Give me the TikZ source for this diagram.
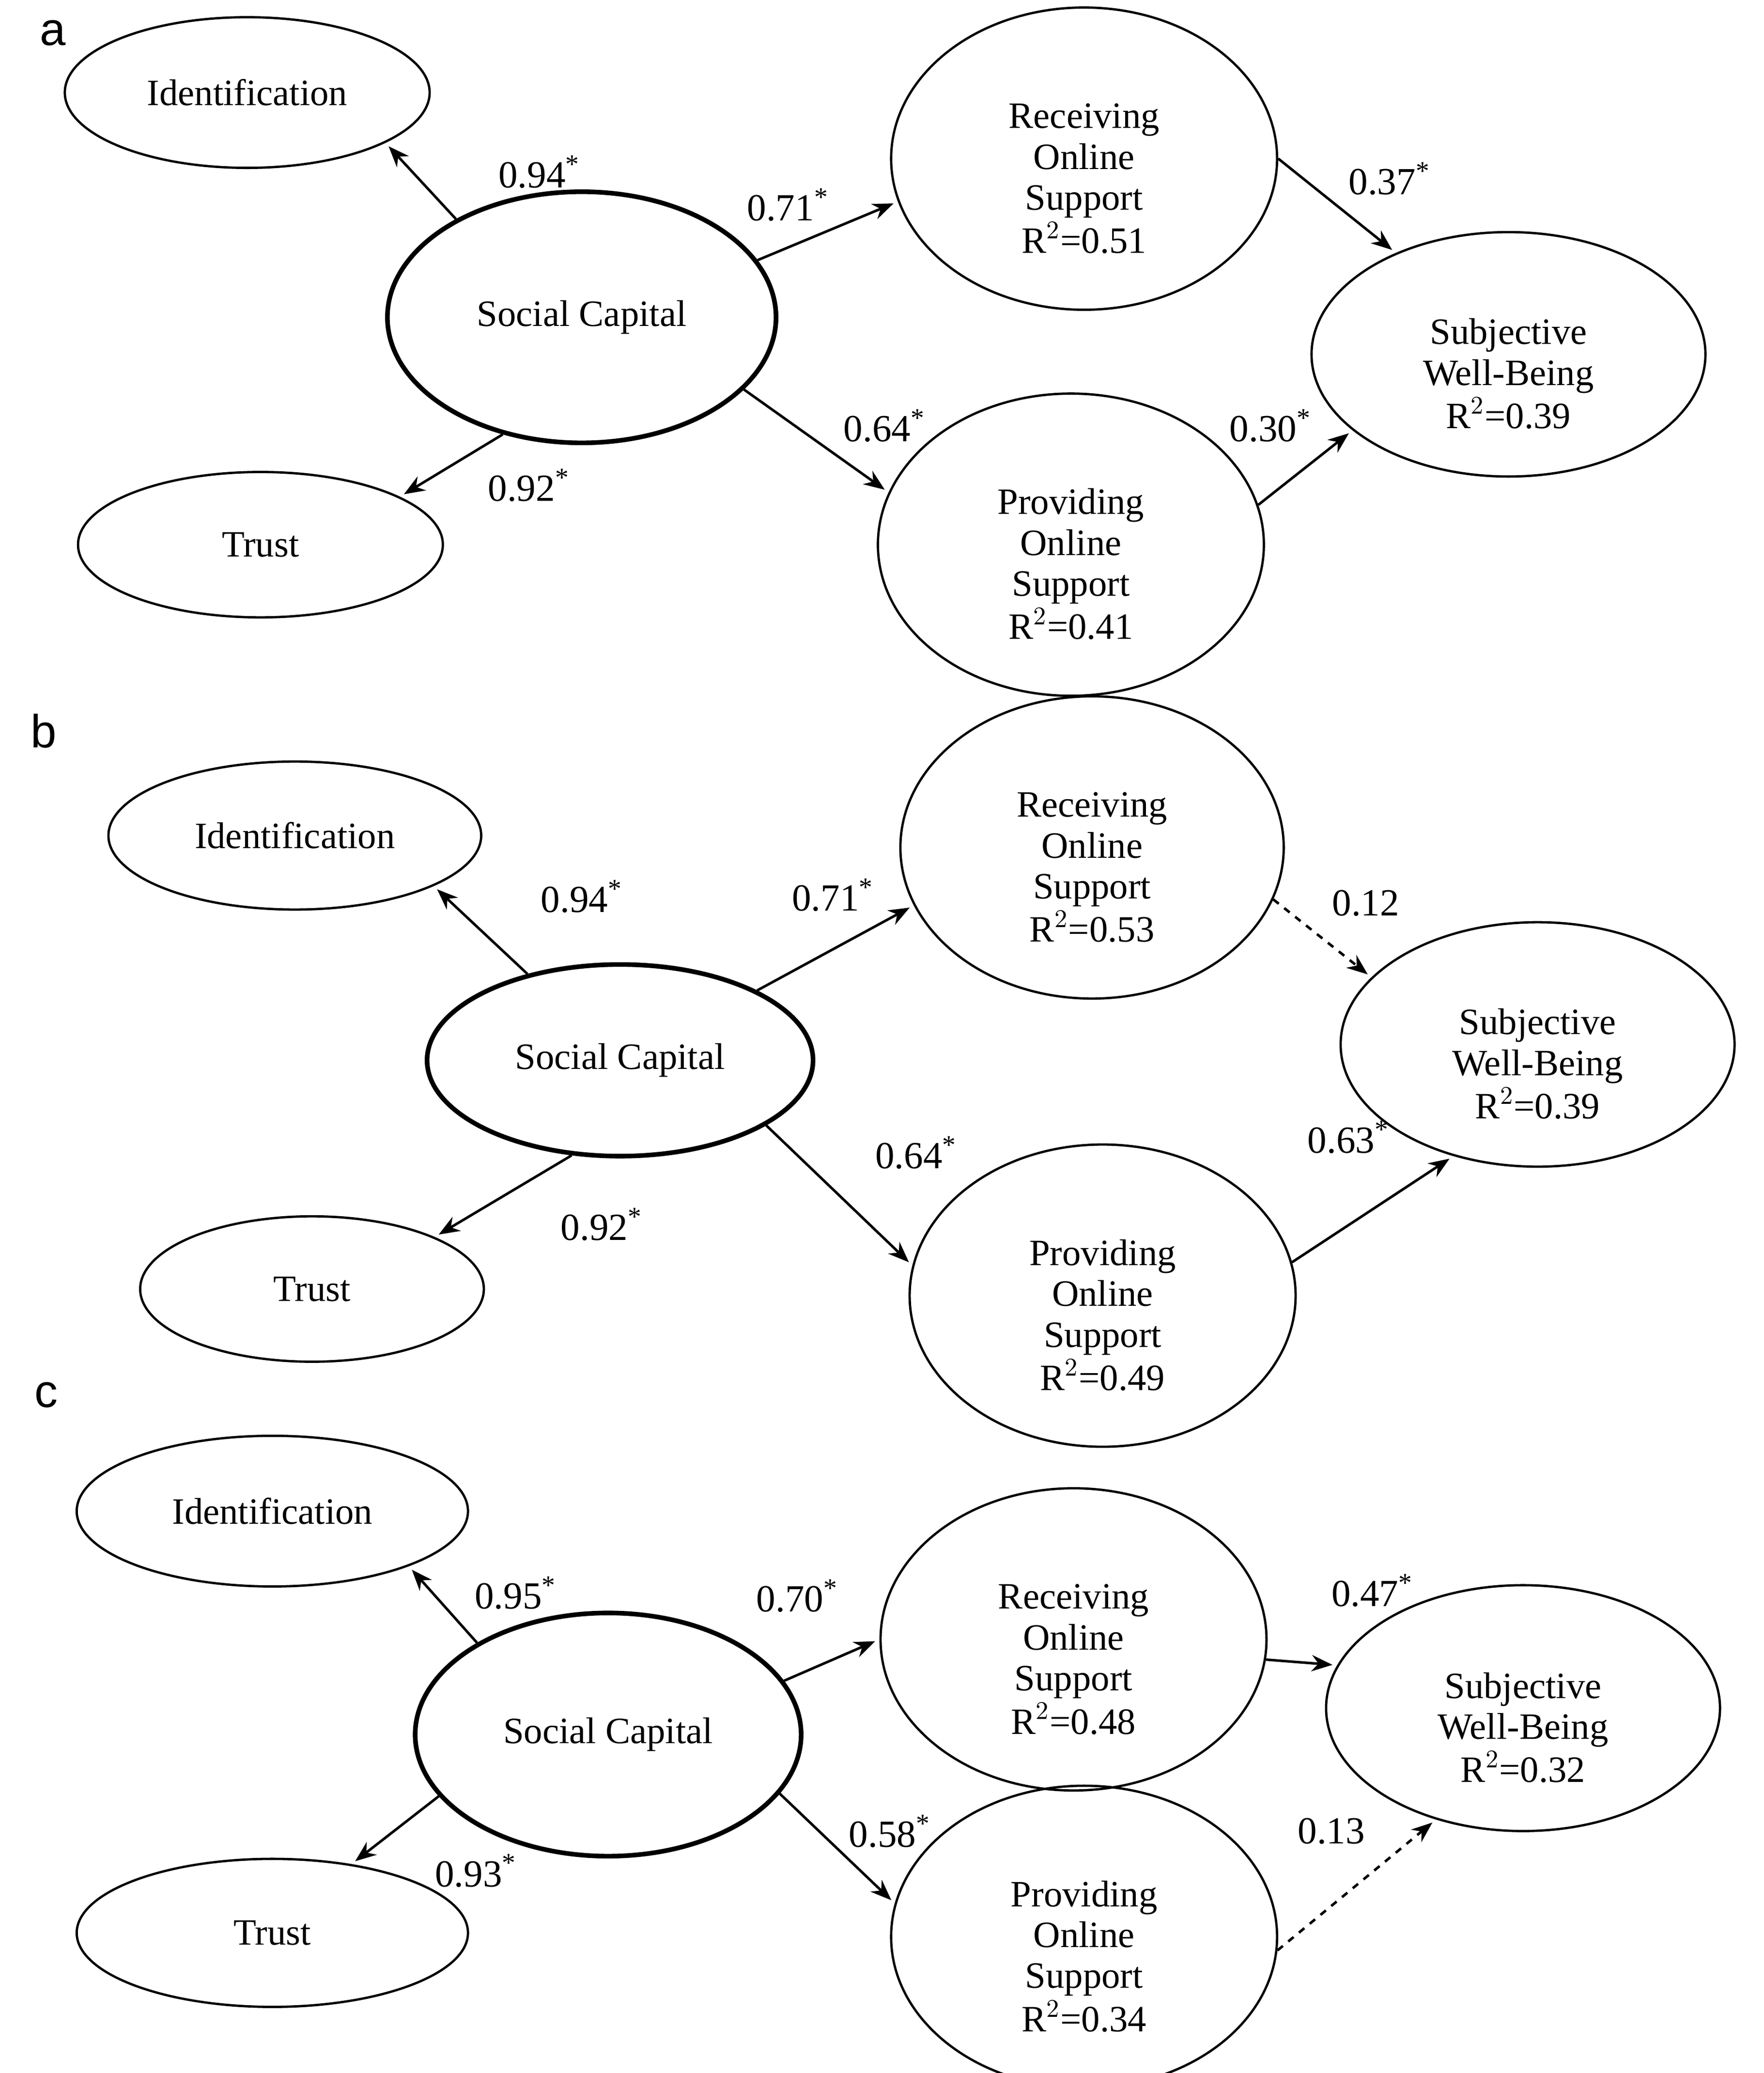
\documentclass[tikz,border=0pt]{standalone}
\usepackage{fontspec}
\setmainfont{Liberation Serif}
\newfontfamily\lett{Liberation Sans}
\usetikzlibrary{shapes.geometric,arrows.meta}
\newcommand{\T}[1]{\begin{tabular}{@{}c@{}}\\[3pt]#1\end{tabular}}
\begin{document}
\begin{tikzpicture}[x=0.02cm,y=-0.02cm,
  el/.style={ellipse,draw,line width=1pt,inner sep=0pt,font=\fontsize{16}{17.6}\selectfont},
  sc/.style={el,line width=2pt},
  ar/.style={-{Stealth[length=9pt,width=7pt]},line width=1.1pt,shorten >=2pt},
  da/.style={ar,dashed},
  lb/.style={font=\fontsize{16.5}{18}\selectfont,inner sep=0pt},
  pl/.style={font=\lett\fontsize{20}{22}\selectfont,inner sep=0pt}]
\useasboundingbox (0,0) rectangle (1334,1568);
\renewcommand{\arraystretch}{1.0}
% ---------- a
\node[pl] (la) at (40,25) {a};
\node[el,minimum width=5.52cm,minimum height=2.28cm] (ia) at (187,70) {Identification};
\node[sc,minimum width=5.88cm,minimum height=3.8cm] (sa) at (440,240) {Social Capital};
\node[el,minimum width=5.52cm,minimum height=2.2cm] (ta) at (197,412) {Trust};
\node[el,minimum width=5.84cm,minimum height=3.68cm] (ra) at (820,120) {\T{Receiving\\Online\\Support\\R$^2$=0.51}};
\node[el,minimum width=5.96cm,minimum height=3.6cm] (wa) at (1141,268) {\T{Subjective\\Well-Being\\R$^2$=0.39}};
\node[el,minimum width=5.84cm,minimum height=3.72cm] (pa) at (810,412) {\T{Providing\\Online\\Support\\R$^2$=0.41}};
\draw[ar] (sa.142) -- (ia.-20);
\draw[ar] (sa.236) -- (ta.19);
\draw[ar] (sa.18) -- (ra.193);
\draw[ar] (sa.-24) -- (pa.164);
\draw[ar] (ra.0) -- (wa.138);
\draw[ar] (pa.12) -- (wa.206);
\node[lb] (a1) at (408,130) {0.94\textsuperscript{*}};
\node[lb] (a2) at (400,367) {0.92\textsuperscript{*}};
\node[lb] (a3) at (596,155) {0.71\textsuperscript{*}};
\node[lb] (a4) at (669,322) {0.64\textsuperscript{*}};
\node[lb] (a5) at (1051,135) {0.37\textsuperscript{*}};
\node[lb] (a6) at (961,322) {0.30\textsuperscript{*}};
% ---------- b
\node[pl] (lb) at (33,553) {b};
\node[el,minimum width=5.64cm,minimum height=2.24cm] (ib) at (223,632) {Identification};
\node[sc,minimum width=5.84cm,minimum height=2.9cm] (sb) at (469,802) {Social Capital};
\node[el,minimum width=5.2cm,minimum height=2.2cm] (tb) at (236,975) {Trust};
\node[el,minimum width=5.8cm,minimum height=3.52cm] (rb) at (826,641) {\T{Receiving\\Online\\Support\\R$^2$=0.53}};
\node[el,minimum width=5.96cm,minimum height=3.2cm] (wb) at (1163,790) {\T{Subjective\\Well-Being\\R$^2$=0.39}};
\node[el,minimum width=5.84cm,minimum height=3.6cm] (pb) at (834,980) {\T{Providing\\Online\\Support\\R$^2$=0.49}};
\draw[ar] (sb.137) -- (ib.-20);
\draw[ar] (sb.243) -- (tb.23);
\draw[ar] (sb.27) -- (rb.198);
\draw[ar] (sb.-24) -- (pb.171);
\draw[da] (rb.-16) -- (wb.158);
\draw[ar] (pb.10) -- (wb.233);
\node[lb] (b1) at (440,678) {0.94\textsuperscript{*}};
\node[lb] (b2) at (455,926) {0.92\textsuperscript{*}};
\node[lb] (b3) at (630,677) {0.71\textsuperscript{*}};
\node[lb] (b4) at (693,872) {0.64\textsuperscript{*}};
\node[lb] (b5) at (1033,683) {0.12};
\node[lb] (b6) at (1020,860) {0.63\textsuperscript{*}};
% ---------- c
\node[pl] (lc) at (35,1055) {c};
\node[el,minimum width=5.92cm,minimum height=2.28cm] (ic) at (206,1143) {Identification};
\node[sc,minimum width=5.84cm,minimum height=3.68cm] (scc) at (460,1312) {Social Capital};
\node[el,minimum width=5.92cm,minimum height=2.24cm] (tc) at (206,1462) {Trust};
\node[el,minimum width=5.84cm,minimum height=3.6cm] (rc) at (812,1240) {\T{Receiving\\Online\\Support\\R$^2$=0.48}};
\node[el,minimum width=5.96cm,minimum height=3.72cm] (wc) at (1152,1292) {\T{Subjective\\Well-Being\\R$^2$=0.32}};
\node[el,minimum width=5.84cm,minimum height=3.68cm] (pc) at (820,1465) {\T{Providing\\Online\\Support\\R$^2$=0.34}};
\draw[ar] (scc.145) -- (ic.-22);
\draw[ar] (scc.200) -- (tc.41);
\draw[ar] (scc.17) -- (rc.180);
\draw[ar] (scc.-19) -- (pc.170);
\draw[ar] (rc.-6) -- (wc.167);
\draw[da] (pc.-4) -- (wc.232);
\node[lb] (c1) at (390,1205) {0.95\textsuperscript{*}};
\node[lb] (c2) at (360,1415) {0.93\textsuperscript{*}};
\node[lb] (c3) at (603,1207) {0.70\textsuperscript{*}};
\node[lb] (c4) at (673,1385) {0.58\textsuperscript{*}};
\node[lb] (c5) at (1038,1203) {0.47\textsuperscript{*}};
\node[lb] (c6) at (1007,1385) {0.13};
\end{tikzpicture}
\end{document}
